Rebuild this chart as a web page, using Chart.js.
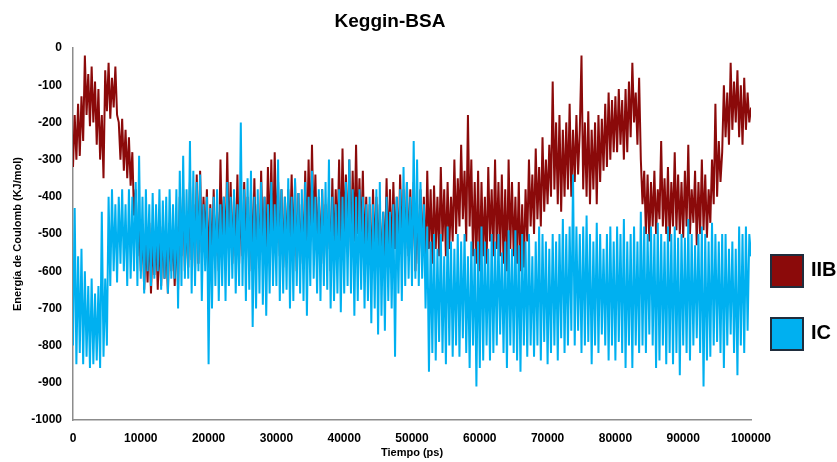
<!DOCTYPE html>
<html>
<head>
<meta charset="utf-8">
<script src="https://cdn.jsdelivr.net/npm/chart.js@4.4.1/dist/chart.umd.min.js"></script>
<style>
  html, body { margin: 0; padding: 0; background: #fff; }
  #wrap { position: relative; width: 837px; height: 462px; font-family: "Liberation Sans", Arial, sans-serif; }
  #chart { position: absolute; left: 0; top: 0; }
  #title { position: absolute; left: 290px; width: 200px; top: 10px; text-align: center; font-weight: bold; font-size: 19px; color: #000; }
  .leg { position: absolute; left: 770px; width: 30px; height: 30px; border: 2px solid #1f2d3d; }
  .legtxt { position: absolute; left: 811px; font-weight: bold; font-size: 20px; color: #000; }
</style>
</head>
<body>
<div id="wrap">
  <canvas id="chart" width="837" height="462"></canvas>
  <div id="title">Keggin-BSA</div>
  <div class="leg" style="top:254px;background:#8b0a0a"></div>
  <div class="legtxt" style="top:258px">IIB</div>
  <div class="leg" style="top:317px;background:#00b0f0"></div>
  <div class="legtxt" style="top:321px">IC</div>
</div>
<script>
// sampled every 250 ps, 0 .. 100000 (one row = 5000 ps)
const STEP_PS = 250;

const iibValues = [
  -320, -180, -300, -150, -290, -130, -250, -20, -180, -70, -210, -50, -200, -90, -260, -110, -300, -180, -350, -60,
  -170, -40, -190, -80, -160, -50, -180, -200, -300, -190, -330, -220, -350, -240, -370, -280, -450, -380, -560, -460,
  -600, -480, -650, -500, -630, -470, -660, -520, -610, -490, -650, -500, -640, -480, -620, -510, -660, -470, -600, -500,
  -640, -480, -650, -400, -560, -380, -600, -450, -590, -360, -570, -420, -600, -340, -580, -330, -550, -400, -520, -380,
  -600, -420, -580, -380, -560, -440, -600, -300, -520, -400, -560, -280, -540, -360, -580, -400, -560, -340, -580, -420,
  -560, -360, -540, -400, -600, -380, -580, -350, -560, -420, -570, -330, -540, -400, -560, -320, -520, -300, -540, -280,
  -500, -360, -560, -380, -590, -400, -550, -380, -520, -340, -560, -360, -600, -390, -580, -420, -560, -330, -540, -300,
  -520, -260, -500, -340, -540, -400, -560, -380, -580, -420, -540, -400, -600, -350, -560, -380, -520, -300, -540, -270,
  -500, -340, -540, -300, -560, -330, -520, -260, -500, -350, -520, -330, -560, -400, -580, -420, -620, -380, -560, -400,
  -560, -420, -600, -440, -580, -350, -560, -380, -580, -360, -540, -400, -560, -340, -520, -380, -540, -360, -560, -380,
  -560, -360, -600, -420, -580, -380, -560, -400, -600, -330, -540, -380, -580, -370, -540, -400, -560, -320, -520, -380,
  -560, -360, -540, -400, -520, -300, -500, -350, -480, -260, -460, -330, -520, -180, -480, -300, -560, -360, -580, -330,
  -600, -360, -560, -400, -580, -320, -520, -380, -560, -300, -540, -360, -560, -340, -580, -380, -600, -300, -540, -360,
  -560, -400, -580, -360, -600, -420, -590, -380, -520, -300, -480, -340, -500, -270, -460, -320, -480, -240, -440, -300,
  -420, -260, -400, -90, -380, -200, -420, -180, -440, -220, -400, -200, -380, -150, -400, -220, -360, -180, -340, -220,
  -20, -380, -200, -400, -170, -420, -220, -380, -200, -420, -180, -360, -190, -330, -150, -320, -120, -300, -140, -280,
  -130, -280, -110, -260, -140, -300, -110, -280, -90, -240, -40, -200, -120, -260, -80, -300, -420, -330, -500, -340,
  -520, -360, -480, -330, -500, -380, -460, -250, -480, -350, -500, -320, -520, -360, -480, -280, -490, -340, -500, -360,
  -510, -330, -480, -260, -500, -380, -470, -330, -530, -360, -500, -300, -490, -340, -510, -380, -470, -300, -420, -150,
  -400, -250, -360, -280, -100, -240, -120, -260, -40, -220, -90, -200, -60, -240, -100, -260, -80, -220, -120, -200,
  -160
];

const icValues = [
  -800, -430, -850, -560, -820, -540, -850, -600, -830, -640, -860, -620, -850, -660, -840, -640, -860, -440, -830, -620,
  -800, -400, -640, -380, -600, -420, -630, -400, -580, -380, -600, -420, -640, -380, -620, -400, -600, -360, -640, -290,
  -620, -400, -660, -380, -600, -420, -640, -390, -620, -420, -600, -380, -650, -410, -620, -400, -660, -380, -620, -420,
  -620, -380, -700, -330, -640, -290, -620, -380, -620, -250, -660, -330, -640, -360, -600, -340, -680, -420, -600, -400,
  -850, -430, -700, -400, -640, -380, -680, -420, -640, -400, -680, -360, -640, -400, -620, -380, -660, -420, -640, -200,
  -640, -380, -680, -350, -650, -330, -750, -400, -700, -380, -660, -360, -690, -400, -720, -420, -660, -360, -640, -420,
  -640, -300, -680, -380, -660, -400, -650, -350, -700, -400, -680, -350, -640, -390, -660, -380, -680, -360, -720, -400,
  -640, -330, -620, -400, -660, -380, -680, -380, -640, -360, -650, -300, -700, -400, -680, -420, -660, -380, -710, -400,
  -660, -360, -640, -300, -660, -380, -720, -400, -680, -380, -650, -400, -700, -420, -680, -400, -740, -420, -700, -380,
  -770, -360, -720, -440, -760, -400, -680, -440, -700, -420, -830, -400, -660, -380, -680, -320, -640, -360, -620, -400,
  -640, -250, -620, -300, -640, -360, -620, -420, -700, -480, -870, -520, -820, -500, -840, -540, -790, -500, -820, -560,
  -850, -480, -800, -520, -830, -540, -800, -500, -830, -520, -780, -500, -820, -560, -860, -520, -800, -540, -910, -520,
  -860, -480, -840, -520, -800, -540, -840, -500, -820, -520, -800, -500, -770, -550, -820, -520, -860, -490, -800, -540,
  -820, -490, -840, -530, -870, -500, -800, -520, -830, -500, -800, -560, -830, -520, -800, -480, -840, -500, -790, -520,
  -850, -540, -820, -500, -800, -520, -840, -500, -780, -460, -820, -500, -800, -480, -760, -340, -800, -480, -760, -500,
  -820, -480, -800, -450, -790, -500, -850, -520, -800, -470, -820, -500, -770, -540, -800, -500, -840, -480, -800, -520,
  -840, -480, -790, -500, -820, -460, -860, -520, -800, -500, -860, -480, -800, -520, -820, -440, -800, -480, -820, -500,
  -770, -480, -800, -500, -860, -470, -840, -500, -800, -520, -850, -480, -820, -500, -850, -480, -820, -510, -880, -500,
  -800, -510, -820, -460, -840, -500, -800, -530, -780, -500, -820, -480, -910, -500, -840, -520, -830, -470, -800, -500,
  -790, -520, -820, -500, -860, -500, -800, -540, -770, -520, -820, -540, -880, -480, -800, -500, -820, -480, -760, -500,
  -560
];

const yMin = -1000, yMax = 0, yStep = 100;
const xMin = 0, xMax = 100000, xStep = 10000;

const toPoints = (vals) => vals.map((v, i) => ({ x: i * STEP_PS, y: v }));

const tickFont = { family: 'Liberation Sans, Arial, sans-serif', size: 12, weight: 'bold' };
const titleFont = { family: 'Liberation Sans, Arial, sans-serif', size: 11, weight: 'bold' };

new Chart(document.getElementById('chart').getContext('2d'), {
  type: 'line',
  data: {
    datasets: [
      {
        label: 'IIB',
        data: toPoints(iibValues),
        borderColor: '#8b0a0a',
        backgroundColor: '#8b0a0a',
        borderWidth: 2,
        pointRadius: 0,
        tension: 0,
        order: 2
      },
      {
        label: 'IC',
        data: toPoints(icValues),
        borderColor: '#00b0f0',
        backgroundColor: '#00b0f0',
        borderWidth: 2,
        pointRadius: 0,
        tension: 0,
        order: 1
      }
    ]
  },
  options: {
    responsive: false,
    animation: false,
    layout: { padding: { top: 48, right: 86, bottom: 0, left: 0 } },
    plugins: {
      legend: { display: false },
      title: { display: false },
      tooltip: { enabled: false }
    },
    scales: {
      x: {
        type: 'linear',
        min: xMin,
        max: xMax,
        afterFit: (s) => { s.height = 42; },
        grid: { display: false, drawTicks: false },
        border: { color: '#8c8c8c', width: 1.5 },
        ticks: { stepSize: xStep, color: '#000', font: tickFont, padding: 11, maxRotation: 0, callback: (v) => String(v) },
        title: { display: true, text: 'Tiempo (ps)', color: '#000', font: titleFont, padding: { top: 0, bottom: 2 } }
      },
      y: {
        min: yMin,
        max: yMax,
        afterFit: (s) => { s.width = 73; },
        grid: { display: false, drawTicks: false },
        border: { color: '#8c8c8c', width: 1.5 },
        ticks: { stepSize: yStep, color: '#000', font: tickFont, padding: 11, callback: (v) => String(v) },
        title: { display: true, text: 'Energía de Coulomb (KJ/mol)', color: '#000', font: titleFont, padding: { top: 11, bottom: 0 } }
      }
    }
  }
});
</script>
</body>
</html>
